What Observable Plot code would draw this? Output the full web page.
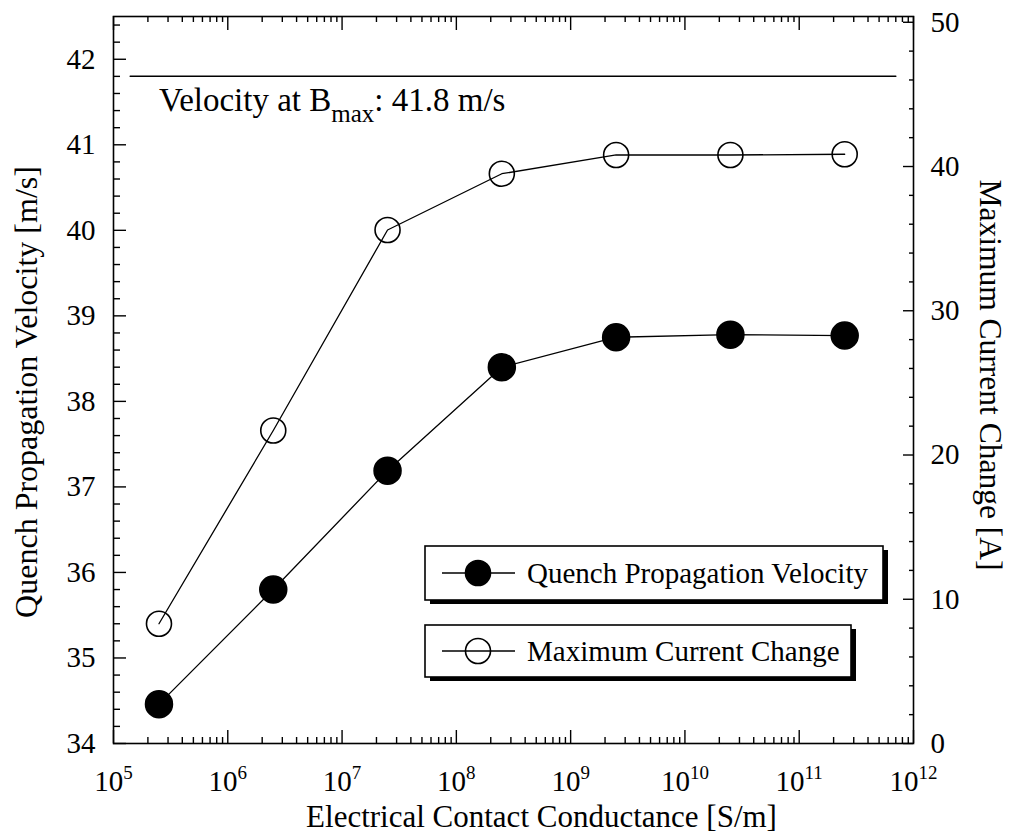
<!DOCTYPE html>
<html><head><meta charset="utf-8">
<script src="https://cdn.jsdelivr.net/npm/d3@7"></script>
<script src="https://cdn.jsdelivr.net/npm/@observablehq/plot@0.6"></script>
<style>html,body{margin:0;padding:0;background:#fff;} svg{display:block}</style>
</head><body><div id="chart"></div>
<script>
// ---- data ----
const conductance = [2.5e5, 2.5e6, 2.5e7, 2.5e8, 2.5e9, 2.5e10, 2.5e11];   // S/m
const velocity = [34.46, 35.8, 37.19, 38.4, 38.75, 38.78, 38.77];           // m/s (left axis)
const currentChange = [8.3, 21.7, 35.6, 39.5, 40.8, 40.8, 40.85];          // A (right axis)
const xDecades = [5, 6, 7, 8, 9, 10, 11, 12];
const leftTicks = [34, 35, 36, 37, 38, 39, 40, 41, 42];
const rightTicks = [0, 10, 20, 30, 40, 50];
const bMaxVelocity = 41.8;
const bMaxLineExtent = [1.4e5, 7e11];
const seriesNames = ["Quench Propagation Velocity", "Maximum Current Change"];
const xTitle = "Electrical Contact Conductance [S/m]";
const yLeftTitle = "Quench Propagation Velocity [m/s]";
const yRightTitle = "Maximum Current Change [A]";

// ---- layout ----
const W = 1010, H = 833, mL = 113, mR = 97, mT = 16, mB = 90;
const innerW = W - mL - mR, innerH = H - mT - mB;
const leftDomain = [34, 42.5], rightDomain = [0, 50.4];
const toLeft = r => leftDomain[0] + (r - rightDomain[0]) / (rightDomain[1] - rightDomain[0]) * (leftDomain[1] - leftDomain[0]);
const font = "'Liberation Serif', 'Times New Roman', serif";
const XMARK = "\u2060"; // marker to find x tick label texts

const rows = conductance.map((x, i) => ({x, v: velocity[i], c: toLeft(currentChange[i])}));
const xMajor = xDecades.map(d => 10 ** d);
const xMinor = [];
xDecades.slice(0, -1).forEach(d => { for (let k = 2; k <= 9; k++) xMinor.push(k * 10 ** d); });
const leftMinor = d3.range(34, 42.5, 0.2).filter(v => Math.abs(v - Math.round(v)) > 1e-6);
const rightMinor = d3.range(2, 50.4, 2).filter(v => v % 10 !== 0);

const tickStyle = {stroke: "black", strokeWidth: 1.4};
const plot = Plot.plot({
  width: W, height: H, marginLeft: mL, marginRight: mR, marginTop: mT, marginBottom: mB,
  style: {fontFamily: font, background: "white", color: "black", overflow: "visible"},
  x: {type: "log", domain: [1e5, 1e12], axis: null},
  y: {domain: leftDomain, axis: null},
  marks: [
    // ticks (inward)
    Plot.tickX(xMajor, {x: d => d, insetTop: innerH - 13, ...tickStyle}),
    Plot.tickX(xMinor, {x: d => d, insetTop: innerH - 6, ...tickStyle}),
    Plot.tickX(xMajor, {x: d => d, insetBottom: innerH - 14, ...tickStyle}),
    Plot.tickX(xMinor, {x: d => d, insetBottom: innerH - 6, ...tickStyle}),
    Plot.tickY(leftTicks, {y: d => d, insetRight: innerW - 13, ...tickStyle}),
    Plot.tickY(leftMinor, {y: d => d, insetRight: innerW - 7, ...tickStyle}),
    Plot.tickY(rightTicks, {y: d => toLeft(d), insetLeft: innerW - 10, ...tickStyle}),
    Plot.tickY(rightMinor, {y: d => toLeft(d), insetLeft: innerW - 4, ...tickStyle}),
    Plot.frame({stroke: "black", strokeWidth: 1.6}),
    // tick labels
    Plot.text(leftTicks, {y: d => d, text: d => String(d), frameAnchor: "left", textAnchor: "end", dx: -18, fontSize: 29, fontFamily: font}),
    Plot.text(rightTicks, {y: d => toLeft(d), text: d => String(d), frameAnchor: "right", textAnchor: "start", dx: 17, fontSize: 29, fontFamily: font}),
    Plot.text(xDecades, {x: d => 10 ** d, text: () => "10" + XMARK, frameAnchor: "bottom", lineAnchor: "bottom", dy: 47, fontSize: 29, fontFamily: font}),
    // x title
    Plot.text([xTitle], {text: d => d, frameAnchor: "bottom", lineAnchor: "bottom", dy: 83, dx: 28, fontSize: 31, fontFamily: font}),
    // B_max reference line and annotation
    Plot.line(bMaxLineExtent.map(x => ({x, y: bMaxVelocity})), {x: "x", y: "y", stroke: "black", strokeWidth: 1.5}),
    Plot.text([bMaxVelocity], {x: conductance[0], y: 41.4, text: () => "Velocity at B", textAnchor: "start", lineAnchor: "bottom", fontSize: 33, fontFamily: font}),
    // series
    Plot.line(rows, {x: "x", y: "c", stroke: "black", strokeWidth: 1.3}),
    Plot.dot(rows, {x: "x", y: "c", r: 12.5, stroke: "black", strokeWidth: 1.6, fill: "none"}),
    Plot.line(rows, {x: "x", y: "v", stroke: "black", strokeWidth: 1.3}),
    Plot.dot(rows, {x: "x", y: "v", r: 13.5, fill: "black", stroke: "black"})
  ]
});

const svg = d3.select(plot);
// superscript exponents on x tick labels
svg.selectAll("text").filter(function () { return this.textContent === "10" + XMARK; }).each(function (_, i) {
  this.textContent = "10";
  d3.select(this).append("tspan").attr("dy", -12).attr("font-size", 19).text(String(xDecades[i]));
});
// subscript on B_max annotation
svg.selectAll("text").filter(function () { return this.textContent === "Velocity at B"; }).each(function () {
  const t = d3.select(this);
  t.append("tspan").attr("dy", 11).attr("font-size", 25).text("max");
  t.append("tspan").attr("dy", -11).text(`: ${bMaxVelocity} m/s`);
});

// y-axis titles
svg.append("text").attr("transform", "translate(37,392) rotate(-90)")
  .attr("text-anchor", "middle").attr("font-family", font).attr("font-size", 32).attr("fill", "black").text(yLeftTitle);
svg.append("text").attr("transform", "translate(980,375) rotate(90)")
  .attr("text-anchor", "middle").attr("font-family", font).attr("font-size", 31.5).attr("fill", "black").text(yRightTitle);

// legend boxes (layout in pixels)
const legend = [
  {name: seriesNames[0], filled: true, x0: 425, y0: 546, x1: 883, y1: 600},
  {name: seriesNames[1], filled: false, x0: 425, y0: 625, x1: 851, y1: 677}
];
const lg = svg.append("g").attr("font-family", font);
legend.forEach(L => {
  const cy = (L.y0 + L.y1) / 2;
  lg.append("rect").attr("x", L.x0 + 5).attr("y", L.y0 + 4).attr("width", L.x1 - L.x0).attr("height", L.y1 - L.y0).attr("fill", "black");
  lg.append("rect").attr("x", L.x0).attr("y", L.y0).attr("width", L.x1 - L.x0).attr("height", L.y1 - L.y0).attr("fill", "white").attr("stroke", "black").attr("stroke-width", 1.6);
  lg.append("line").attr("x1", L.x0 + 17).attr("x2", L.x0 + 90).attr("y1", cy).attr("y2", cy).attr("stroke", "black").attr("stroke-width", 1.3);
  lg.append("circle").attr("cx", L.x0 + 53).attr("cy", cy).attr("r", 12.5)
    .attr("fill", L.filled ? "black" : "none").attr("stroke", "black").attr("stroke-width", 1.6);
  lg.append("text").attr("x", L.x0 + 102).attr("y", cy).attr("dy", "0.33em").attr("text-anchor", "start")
    .attr("font-size", 29).attr("fill", "black").text(L.name);
});

document.getElementById("chart").appendChild(plot);
</script>
</body></html>
